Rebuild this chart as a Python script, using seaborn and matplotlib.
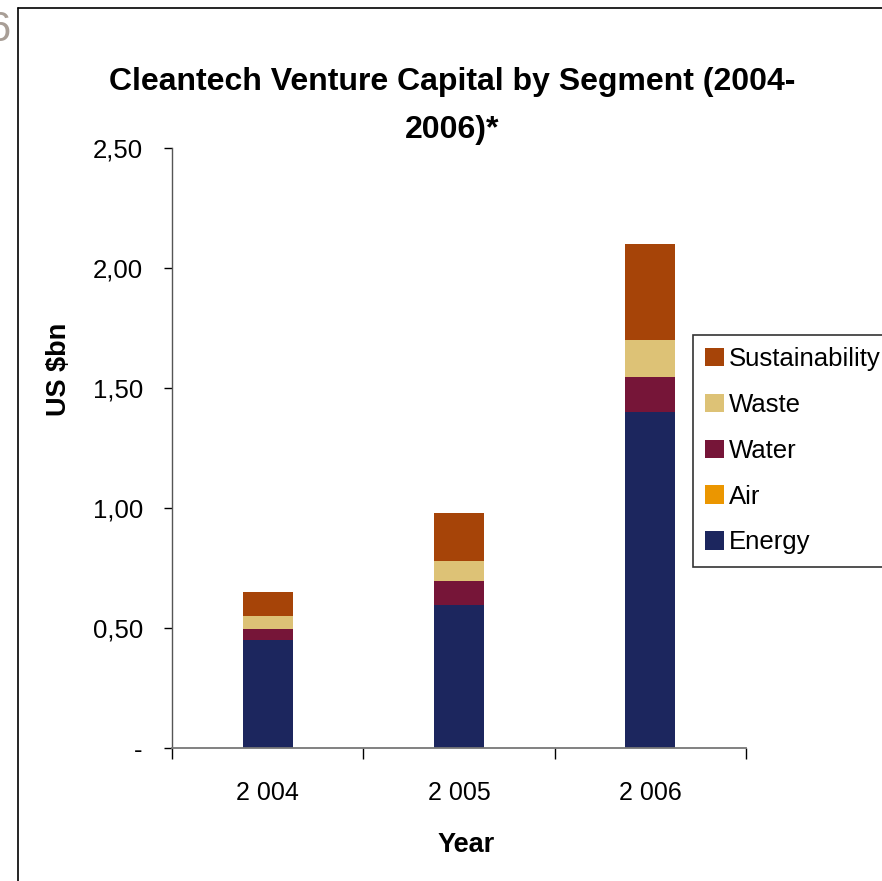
import numpy as np
import pandas as pd
import matplotlib
matplotlib.use("Agg")
import matplotlib.pyplot as plt
from matplotlib.patches import Patch
from matplotlib.lines import Line2D
import seaborn as sns

# 데이터 (그림에서 읽은 값, US $bn)
years = ["2 004", "2 005", "2 006"]
segments = ["Energy", "Air", "Water", "Waste", "Sustainability"]
energy = [0.45, 0.595, 1.40]
air = [0.0, 0.0, 0.0]
water = [0.045, 0.10, 0.147]
waste = [0.055, 0.083, 0.153]
sustainability = [0.10, 0.20, 0.40]
colors = ["#1C265E", "#EB9600", "#761538", "#DDC276", "#A64408"]
ytick_vals = [0, 0.5, 1.0, 1.5, 2.0, 2.5]
ytick_labels = ["-", "0,50", "1,00", "1,50", "2,00", "2,50"]

df = pd.DataFrame({"Year": years, "Energy": energy, "Air": air, "Water": water,
                   "Waste": waste, "Sustainability": sustainability})
cum = df[segments].cumsum(axis=1)

sns.set_style("white", {"text.color": "black", "xtick.color": "black",
                        "ytick.color": "black", "axes.labelcolor": "black"})
plt.rcParams["font.family"] = ["Liberation Sans", "DejaVu Sans"]

W, H = 882, 881
fig = plt.figure(figsize=(W / 100, H / 100), dpi=100)
ax = fig.add_axes([172 / W, 1 - 748 / H, (746 - 172) / W, (748 - 148) / H])

# 누적 막대: 위쪽 세그먼트부터 그려서 겹치게
for seg, col in reversed(list(zip(segments, colors))):
    sns.barplot(x=df["Year"], y=cum[seg], color=col, saturation=1, width=0.26,
                ax=ax, linewidth=0)

ax.set_xlim(-0.5, 2.5)
ax.set_ylim(0, 2.5)
ax.set_xlabel("")
ax.set_ylabel("")

ax.set_yticks(ytick_vals)
ax.set_yticklabels(ytick_labels, fontsize=18.5)
ax.tick_params(axis="y", direction="out", length=6, width=1, color="black", pad=15, left=True)

# x축 눈금은 카테고리 경계, 라벨은 가운데
ax.set_xticks([-0.5, 0.5, 1.5, 2.5])
ax.set_xticklabels([])
ax.set_xticks([0, 1, 2], minor=True)
ax.set_xticklabels(years, minor=True, fontsize=18)
ax.tick_params(axis="x", which="major", direction="out", length=8, width=1, color="black", bottom=True)
ax.tick_params(axis="x", which="minor", length=0, pad=24)

for s in ["top", "right"]:
    ax.spines[s].set_visible(False)
ax.spines["left"].set_color("#555555")
ax.spines["bottom"].set_color("#777777")
ax.spines["left"].set_linewidth(1)
ax.spines["bottom"].set_linewidth(1.3)

# 제목과 축 제목
fig.text(452 / W, 1 - 82 / H, "Cleantech Venture Capital by Segment (2004-", ha="center", va="center",
         fontsize=23, fontweight="bold")
fig.text(452 / W, 1 - 130 / H, "2006)*", ha="center", va="center", fontsize=23, fontweight="bold")
fig.text(59 / W, 1 - 369 / H, "US $bn", rotation=90, ha="center", va="center", fontsize=19.5, fontweight="bold")
fig.text(466 / W, 1 - 845 / H, "Year", ha="center", va="center", fontsize=19.5, fontweight="bold")

# 범례 (역순)
handles = [Patch(facecolor=c, edgecolor="none", label=s) for s, c in zip(segments, colors)][::-1]
leg = fig.legend(handles=handles, loc="upper left", bbox_to_anchor=(693 / W, 1 - 335 / H),
                 fontsize=18.5, frameon=True, fancybox=False, handlelength=0.72, handleheight=0.72,
                 labelspacing=0.85, handletextpad=0.2, borderpad=0.47, borderaxespad=0)
leg.get_frame().set_edgecolor("black")
leg.get_frame().set_linewidth(1.2)

# 잘린 슬라이드 테두리와 숫자
fig.add_artist(Line2D([17.5 / W, 17.5 / W], [0, 1 - 7.5 / H], color="black", lw=1.2, transform=fig.transFigure))
fig.add_artist(Line2D([17.5 / W, 1], [1 - 7.5 / H, 1 - 7.5 / H], color="black", lw=1.2, transform=fig.transFigure))
fig.text(11 / W, 1 - 30 / H, "6", ha="right", va="center", fontsize=30, color="#A89E96")

fig.savefig("out.png", dpi=100)
